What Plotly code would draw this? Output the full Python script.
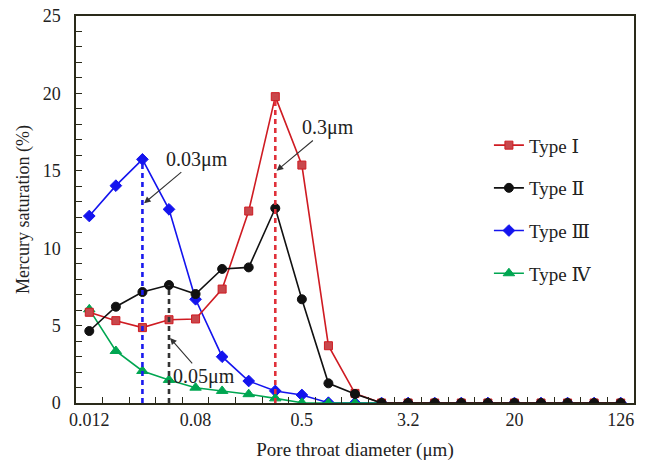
import plotly.graph_objects as go

diameters = ["0.012", "0.019", "0.03", "0.05", "0.08", "0.12", "0.2", "0.3", "0.5", "0.8",
             "1.3", "2", "3.2", "5", "8", "13", "20", "32", "50", "80", "126"]
tick_labels = ["0.012", "0.08", "0.5", "3.2", "20", "126"]
type_names = ["Ⅰ", "Ⅱ", "Ⅲ", "Ⅳ"]

type1 = [5.86, 5.32, 4.87, 5.38, 5.43, 7.36, 12.4, 19.79, 15.37, 3.7, 0.62,
         0, 0, 0, 0, 0, 0, 0, 0, 0, 0]
type2 = [4.65, 6.22, 7.17, 7.62, 7.04, 8.66, 8.76, 12.58, 6.7, 1.27, 0.58,
         0, 0, 0, 0, 0, 0, 0, 0, 0, 0]
type3 = [12.08, 14.04, 15.74, 12.51, 6.7, 2.99, 1.42, 0.78, 0.52, 0.02, 0,
         0, 0, 0, 0, 0, 0, 0, 0, 0, 0]
type4 = [6.05, 3.36, 2.07, 1.49, 0.99, 0.78, 0.57, 0.3, 0.02, 0, 0,
         0, 0, 0, 0, 0, 0, 0, 0, 0, 0]

idx = list(range(len(diameters)))
tick_idx = [diameters.index(t) for t in tick_labels]

FONT = "Liberation Serif"
TXT = "#222222"
fig = go.Figure()

def label(n):
    return "Type <span style='font-family:DejaVu Serif'>" + n + "</span>"

series = [
    (label(type_names[0]), type1, "#cf1b22", "square", "#c8484c", 8, 1),
    (label(type_names[1]), type2, "#111111", "circle", "#111111", 9, 2),
    (label(type_names[2]), type3, "#1414ee", "diamond", "#1414ee", 9, 3),
    (label(type_names[3]), type4, "#00a651", "triangle-up", "#00a651", 10, 4),
]
order = [2, 3, 0, 1]
for k in order:
    name, ys, col, sym, fill, size, rank = series[k]
    fig.add_trace(go.Scatter(
        x=idx, y=ys, mode="lines+markers", name=name,
        legendgroup=str(rank), legendrank=rank,
        line=dict(color=col, width=1.6),
        marker=dict(symbol=sym, size=size, color=fill, line=dict(color=col, width=1)),
    ))

# dashed verticals at peaks
dash_specs = [("0.03", type3, "#1a1aee"), ("0.05", type2, "#333333"), ("0.3", type1, "#e0303a")]
for d, ys, col in dash_specs:
    i = diameters.index(d)
    fig.add_trace(go.Scatter(x=[i, i], y=[0, ys[i]], mode="lines", showlegend=False,
                             line=dict(color=col, width=2.6, dash="5px,4px"), hoverinfo="skip"))

ann = dict(font=dict(family=FONT, size=20, color=TXT), showarrow=True,
           arrowhead=2, arrowsize=1.2, arrowwidth=1.1, arrowcolor="#333333",
           axref="x", ayref="y", xref="x", yref="y")
fig.add_annotation(x=2.06, y=12.9, ax=4.05, ay=15.75, text="0.03μm", **ann)
fig.add_annotation(x=7.05, y=15.0, ax=9.0, ay=17.8, text="0.3μm", **ann)
fig.add_annotation(x=3.04, y=4.2, ax=4.3, ay=1.72, text="0.05μm", **ann)

axis_line = "#2a2a1a"
fig.update_xaxes(
    range=[-0.5, 20.5], tickmode="array", tickvals=tick_idx, ticktext=tick_labels,
    ticks="", showgrid=False, zeroline=False, automargin=False,
    showline=True, linecolor=axis_line, linewidth=1.5, mirror=True,
    minor=dict(tickmode="array", tickvals=[i + 0.5 for i in idx[:-1]], ticks="inside",
               ticklen=6, tickcolor=axis_line, tickwidth=1.2),
    tickfont=dict(family=FONT, size=18, color=TXT),
    title=dict(text="Pore throat diameter (μm)", font=dict(family=FONT, size=19, color=TXT),
               standoff=14),
)
fig.update_yaxes(
    range=[0, 25], tickmode="array", tickvals=[0, 5, 10, 15, 20, 25],
    ticks="inside", ticklen=6, tickcolor=axis_line, tickwidth=1.2,
    showgrid=False, zeroline=False, automargin=False,
    showline=True, linecolor=axis_line, linewidth=1.5, mirror=True,
    minor=dict(tickmode="linear", tick0=0, dtick=1, ticks="inside", ticklen=6,
               tickcolor=axis_line, tickwidth=1.2),
    tickfont=dict(family=FONT, size=18, color=TXT),
    ticklabelstandoff=10,
    title=dict(text="Mercury saturation (%)", font=dict(family=FONT, size=18, color=TXT),
               standoff=8),
)
fig.update_layout(
    width=651, height=461,
    margin=dict(l=76, r=17, t=16, b=58),
    paper_bgcolor="white", plot_bgcolor="white",
    showlegend=True,
    legend=dict(x=0.74, y=0.715, xanchor="left", yanchor="top",
                font=dict(family=FONT, size=19, color=TXT),
                tracegroupgap=15, itemwidth=30, bgcolor="rgba(0,0,0,0)"),
)
fig.write_html("out.html")
